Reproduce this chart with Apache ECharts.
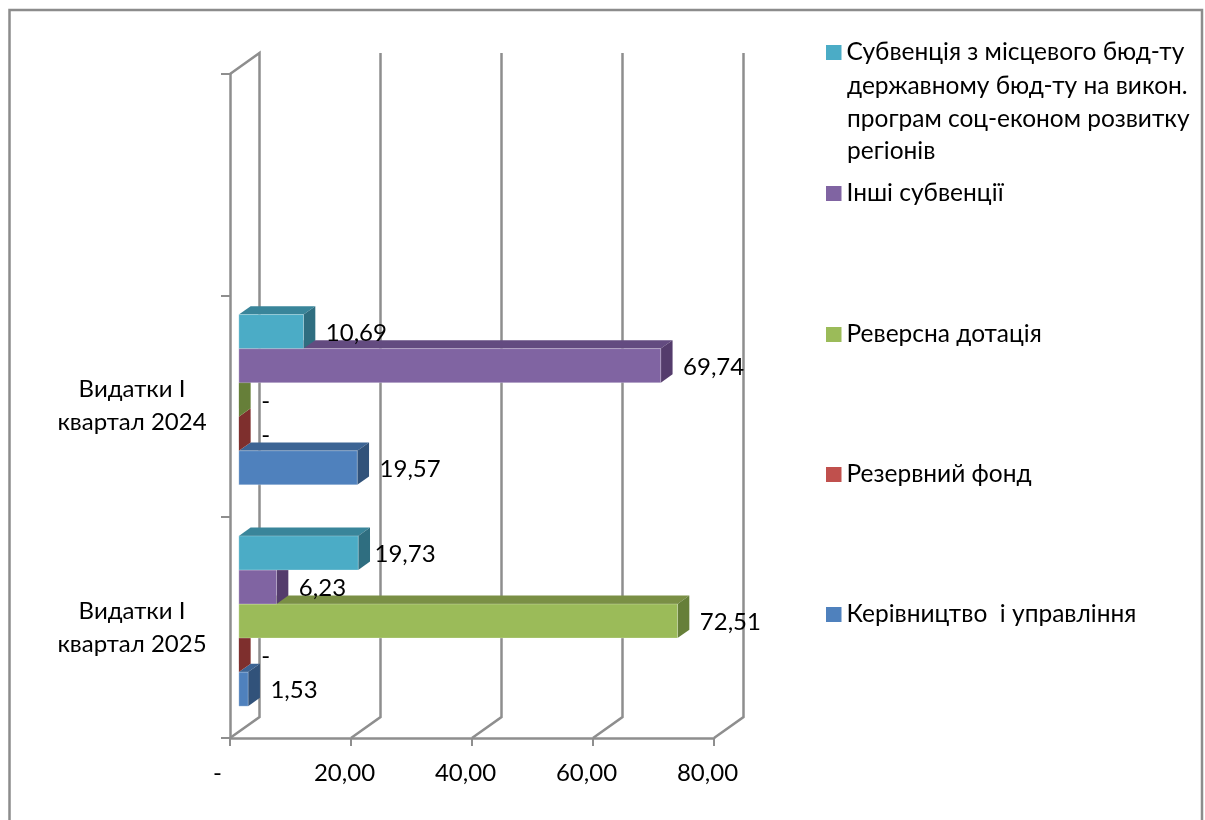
<!DOCTYPE html>
<html>
<head>
<meta charset="utf-8">
<title>Видатки</title>
<style>html,body{margin:0;padding:0;background:#fff}#chart{width:1205px;height:820px}</style>
<script src="https://cdn.jsdelivr.net/npm/echarts@6/dist/echarts.min.js"></script>
</head>
<body>
<div id="chart"></div>
<script>
// Categories run bottom-up; the third band of the axis stays empty.
const categories = ['Видатки I\nквартал 2025', 'Видатки I\nквартал 2024', ''];
const xTicks = [0, 20, 40, 60, 80];

const seriesNames = [
  'Керівництво  і управління',
  'Резервний фонд',
  'Реверсна дотація',
  'Інші субвенції',
  'Субвенція з місцевого бюд-ту\nдержавному бюд-ту на викон.\nпрограм соц-економ розвитку\nрегіонів'
];
const management = [1.53, 19.57];
const reserveFund = [0, 0];
const reverseSubsidy = [72.51, 0];
const otherSubventions = [6.23, 69.74];
const localToState = [19.73, 10.69];
const seriesValues = [management, reserveFund, reverseSubsidy, otherSubventions, localToState];

// Front, top and side face colours of each box.
const faceColors = [
  ['#4F81BD', '#3C6494', '#31527A'],
  ['#C0504D', '#933C3A', '#7E2F2D'],
  ['#9BBB59', '#7A8F45', '#667F39'],
  ['#8064A2', '#634B80', '#543C6C'],
  ['#4BACC6', '#39859A', '#2F6E80']
];

const FONT_FAMILY = 'Lato, "Open Sans", sans-serif';
const FONT_SIZE = 24;
const LEGEND_FONT_SIZE = 24.5;
const FONT = FONT_SIZE + 'px ' + FONT_FAMILY;
const AXIS_COLOR = '#8E8E8E';
const DEPTH_X = 29.5;
const DEPTH_Y = 21;
const GAP_RATIO = 1.5;           // gap between clusters, in bar heights
const BOX_FRONT = 0.3;           // where a box starts inside the floor depth
const BOX_DEPTH = 0.4;           // how much of the floor depth a box takes

// Small per-label adjustments, keyed "series:category".
const labelShift = { '4:0': -6 };

const fmt = v => v === 0 ? '-' : v.toFixed(2).replace('.', ',');

function poly(points, fill) {
  return { type: 'polygon', shape: { points }, style: { fill }, silent: true };
}

function renderWall(params, api) {
  const box = params.coordSys;
  const x = api.coord([api.value(0), 0])[0];
  const bottom = box.y + box.height;
  const pts = [[x, bottom], [x + DEPTH_X, bottom - DEPTH_Y], [x + DEPTH_X, box.y - DEPTH_Y]];
  if (api.value(0) === 0) pts.push([x, box.y]);
  return {
    type: 'polyline',
    shape: { points: pts },
    style: { stroke: AXIS_COLOR, lineWidth: 2.5, fill: null },
    silent: true
  };
}

function boxRenderer(seriesIndex) {
  return function (params, api) {
    const value = api.value(1);
    const cat = api.value(0);
    const band = api.size([0, 1])[1];
    const h = band / (seriesValues.length + GAP_RATIO);
    const zeroX = api.coord([0, cat])[0];
    const endX = api.coord([value, cat])[0];
    const centerY = api.coord([0, cat])[1];

    const fx = DEPTH_X * BOX_FRONT, fy = DEPTH_Y * BOX_FRONT;
    const bx = DEPTH_X * BOX_DEPTH, by = DEPTH_Y * BOX_DEPTH;
    const left = zeroX + fx;
    const right = endX + fx;
    const bottom = centerY - fy + (seriesValues.length / 2 - seriesIndex) * h;
    const top = bottom - h;
    const [front, upper, side] = faceColors[seriesIndex];

    const children = [
      poly([[left, top], [left + bx, top - by], [right + bx, top - by], [right, top]], upper),
      poly([[right, top], [right + bx, top - by], [right + bx, bottom - by], [right, bottom]], side)
    ];
    if (value > 0) {
      children.push({
        type: 'rect',
        shape: { x: left, y: top, width: right - left, height: h },
        style: { fill: front, stroke: 'rgba(255,255,255,0.25)', lineWidth: 1 },
        silent: true
      });
    }
    const shift = labelShift[seriesIndex + ':' + cat] || 0;
    children.push({
      type: 'text',
      z2: 50,
      style: {
        text: fmt(value),
        x: right + bx + 10.5 + shift,
        y: (top + bottom) / 2 + 1.5,
        font: FONT,
        fill: '#000',
        align: 'left',
        verticalAlign: 'middle'
      },
      silent: true
    });
    return { type: 'group', children };
  };
}

const legendTops = [40, 181, 322, 462, 602];
const legendOrder = [4, 3, 2, 1, 0];

const legendNameParts = seriesNames[4].split('\n');
const continuation = legendNameParts.slice(1).map((line, i) => ({
  type: 'text',
  left: 847,
  top: 74 + i * 32.5,
  style: { text: line, font: LEGEND_FONT_SIZE + 'px ' + FONT_FAMILY, fill: '#000' },
  silent: true
}));

const chart = echarts.init(document.getElementById('chart'));
chart.setOption({
  animation: false,
  backgroundColor: '#fff',
  grid: { left: 230, top: 74, width: 484, height: 664, containLabel: false },
  xAxis: {
    type: 'value',
    min: 0,
    max: 80,
    interval: 20,
    splitLine: { show: false },
    axisLine: { show: true, lineStyle: { color: AXIS_COLOR, width: 2.5 } },
    axisTick: { show: true, length: 8, lineStyle: { color: AXIS_COLOR, width: 2 } },
    axisLabel: {
      margin: 23,
      color: '#000',
      fontFamily: FONT_FAMILY,
      fontSize: FONT_SIZE,
      padding: [0, 13, 0, 0],
      showMinLabel: true,
      showMaxLabel: true,
      formatter: v => v === 0 ? '-  ' : fmt(v)
    }
  },
  yAxis: {
    type: 'category',
    data: categories,
    splitLine: { show: false },
    axisLine: { show: true, lineStyle: { color: AXIS_COLOR, width: 2.5 } },
    axisTick: { show: true, length: 9, lineStyle: { color: AXIS_COLOR, width: 2 } },
    axisLabel: {
      margin: 98,
      align: 'center',
      lineHeight: 33,
      padding: [3, 0, 0, 0],
      color: '#000',
      fontFamily: FONT_FAMILY,
      fontSize: FONT_SIZE
    }
  },
  legend: legendOrder.map((s, i) => ({
    left: 826,
    top: legendTops[i],
    padding: 0,
    itemWidth: 15.5,
    itemHeight: 15,
    itemGap: 0,
    icon: 'rect',
    selectedMode: false,
    data: [seriesNames[s]],
    formatter: name => name.split('\n')[0],
    textStyle: {
      color: '#000',
      fontFamily: FONT_FAMILY,
      fontSize: LEGEND_FONT_SIZE
    }
  })),
  graphic: [
    {
      type: 'rect',
      shape: { x: 9.5, y: 10, width: 1192.5, height: 830 },
      style: { fill: null, stroke: '#8C8C8C', lineWidth: 2.5 },
      silent: true
    },
    ...continuation
  ],
  series: [
    {
      type: 'custom',
      name: 'wall',
      z: 1,
      silent: true,
      renderItem: renderWall,
      encode: { x: 0 },
      data: xTicks.map(v => [v])
    },
    ...seriesNames.map((name, s) => ({
      type: 'custom',
      name,
      z: 2 + s,
      silent: true,
      itemStyle: { color: faceColors[s][0] },
      renderItem: boxRenderer(s),
      encode: { x: 1, y: 0 },
      data: seriesValues[s].map((v, cat) => [cat, v])
    }))
  ]
});
</script>
</body>
</html>
